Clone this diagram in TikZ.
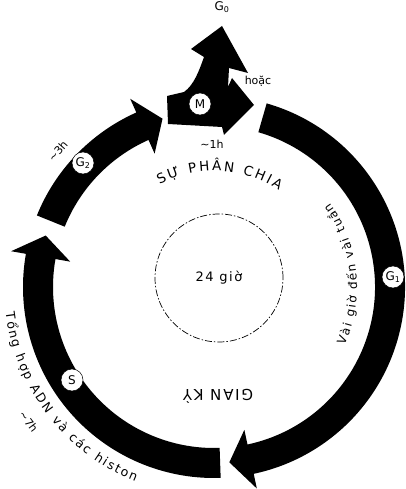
\documentclass[tikz,border=0pt]{standalone}
\usepackage{fontspec}
\setmainfont{DejaVu Sans}
\newfontfamily\spaced[LetterSpace=12]{DejaVu Sans}
\usetikzlibrary{decorations.text}

\newcommand{\phasearc}[3]{%
  \fill (#1:191pt) arc[start angle=#1,end angle=#2,radius=191pt]
    -- (#2:206pt) -- (#3:176pt) -- (#2:146pt) -- (#2:161pt)
    arc[start angle=#2,end angle=#1,radius=161pt] -- cycle;}

\begin{document}
\begin{tikzpicture}[x=1pt,y=1pt,
  lab/.style={circle,draw=black,fill=white,line width=0.5pt,inner sep=0pt,minimum size=22pt,font=\fontsize{12}{14}\selectfont},
  note/.style={font=\fontsize{11}{13}\selectfont,inner sep=1pt}]
\useasboundingbox (0,0) rectangle (406,489);
\begin{scope}[shift={(214,202)}]
\phasearc{74}{-78}{-85}
\phasearc{-88}{-190}{-197}
\phasearc{158}{114}{107}
\path[decorate,decoration={text along path,text align={fit to path},
  text={|\fontsize{13.5}{15}\selectfont|SỰ PHÂN CHIA}}]
  (118:116pt) arc[start angle=118,end angle=56,radius=116pt];
\path[decorate,decoration={text along path,text align={fit to path},
  text={|\fontsize{12}{14}\selectfont|Vài giờ đến vài tuần}}]
  (-24:143pt) arc[start angle=-24,end angle=36,radius=143pt];
\path[decorate,decoration={text along path,text align={fit to path},
  text={|\fontsize{12.5}{14}\selectfont|Tổng hợp ADN và các histon}}]
  (187:210pt) arc[start angle=187,end angle=248,radius=210pt];
\node[note,rotate=49] (g2time) at (139:207pt) {\textasciitilde3h};
\node[note,rotate=-53] (stime) at (216:229pt) {\textasciitilde7h};
\end{scope}
\fill (167,393) -- (168,365) -- (222,362) -- (224,354) -- (254,384) -- (232,411)
  -- (228,402) -- (229,421) -- (248,416) -- (222,463) -- (191,440) -- (204,432)
  .. controls (199,418) and (194,404) .. (184,397) -- cycle;
\node[lab] (m) at (200,385) {M};
\node[lab] (g2) at (83,326) {G\textsubscript{2}};
\node[lab] (s) at (72,109) {S};
\node[lab] (g1) at (393,212) {G\textsubscript{1}};
\node[note,font=\fontsize{12}{14}\selectfont] (g0) at (222,482) {G\textsubscript{0}};
\node[note] (hoac) at (258,408) {hoặc};
\node[note] (mtime) at (212,345) {\textasciitilde1h};
\node[font=\spaced\fontsize{15}{17}\selectfont,rotate=180] (gk) at (218,93) {GIAN KỲ};
\node[circle,draw,line width=0.7pt,dash pattern=on 7pt off 2pt on 1.5pt off 2pt,
  minimum size=128pt,font=\spaced\fontsize{13}{15}\selectfont] (day) at (219,211) {24 giờ};
\end{tikzpicture}
\end{document}
